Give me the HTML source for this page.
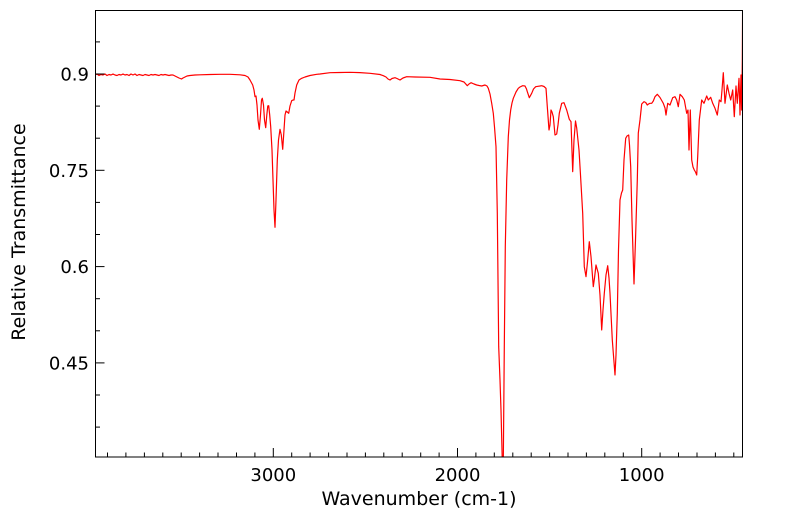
<!DOCTYPE html>
<html>
<head>
<meta charset="utf-8">
<style>
  html, body { margin: 0; padding: 0; background: #ffffff; }
  svg { display: block; }
  text { font-family: "DejaVu Sans", "Liberation Sans", sans-serif; fill: #000; }
</style>
</head>
<body>
<svg width="799" height="516" viewBox="0 0 799 516" xmlns="http://www.w3.org/2000/svg">
  <defs>
    <clipPath id="plotclip">
      <rect x="95" y="10" width="648" height="447"/>
    </clipPath>
  </defs>
  <rect x="0" y="0" width="799" height="516" fill="#ffffff"/>

  <!-- spectrum -->
  <g clip-path="url(#plotclip)">
    <polyline fill="none" stroke="#ff0000" stroke-width="1.2" stroke-linejoin="round" points="
95,75 97,74 99,75.5 101,74.5 103,75 105,74 107,75.5 109,74.5 111,75 113,74 115,75 117,75.5 119,74.5 121,75 123,74 125,75 127,74.5 129,75.5 131,74 133,75 135,74 137,75.5 139,74.5 141,75 143,75.5 145,74.5 147,75 149,75.5 151,74.5 153,75 155,74.5 157,75 159,75.5 161,74.5 163,75 165,74.5 167,75 169,75.5 171,75 173,75 175,76 177,77 179,78 181.5,79 183,78 185,77 187,76 190,75.5 195,75 200,74.8 210,74.5 220,74.3 230,74.3 240,74.8 245,75.5 248,77 250,80 252.7,85 254,90 255,96.7 256,96 257,105 258,120 259.3,129.3 260.5,115 261.5,100 262.3,98.3 263.5,105 264.5,120 265.7,127.7 266.8,115 267.8,106 268.7,105.7 269.7,115 270.7,126.7 272,150 273,180 274,210 275,227.3 276,200 277.3,160 278.5,140 280,129.3 281.3,135 282.7,149.3 284,130 285,115 286,111 287.3,112 288.7,113.3 290,106 291.7,100.7 293,100 294,100 295,93 296.7,85 299,80 301.7,78.3 305,77 310,75.5 316.7,74.3 320,74 330,72.7 340,72.5 350,72.3 360,72.6 370,73.3 380,74.5 383.3,75.7 386,77 388,79 390,80 392,78.5 395,77.7 397,78.5 400,80 403,78 406.7,76.7 415,77 430,77.3 440,79 450,79.5 460,80.7 464,82 467.3,85.7 469,84 471,82.7 474,84 476.7,85 479,85.5 481.7,86 485,85 487,86 488.3,88.3 490,94 491.7,103.3 493.3,113.3 494.5,127 496,146.7 497.3,213 498.7,346.7 500,380 501,410 502.3,462 503.3,462 504.3,346.7 505.3,246.7 506.7,180 508.3,136.7 509.5,120 510.7,110 512,103 513.3,98.3 516,92 518.3,88.3 520,87 522.7,85.7 525,86 526.5,89 527.3,91.7 529.3,97.7 531.7,93.3 533.5,89 535.7,86.7 538,86.3 540,86 541.7,85.7 544,86.5 546,88.3 547.3,106.7 549,130 550,125 551,110 552,112 553.3,116.7 555,135 556.7,134 558,125 559.3,113.3 561.7,103.3 564,102.7 566.7,110 569.3,119.3 571,121.7 572.7,171.7 574,140 575.5,121 576.7,128 579,150 580.5,175 582.7,213.3 584.3,266.7 586,276.7 587.5,262 589.3,241.7 591,256.7 593.3,286.7 594.5,278 596,265 598.3,273.3 600,295 601.7,330 603,310 604.3,293.3 606,275 607.7,265.7 609,278 610,293.3 612.3,340 615,375 616,355 617.3,313.3 618.5,250 620,200 621.5,193 622.7,190 624,160 625.7,138.3 627,136 628.7,135 629.5,145 630.7,166.7 632,220 634,284 635.5,240 637.3,180 638.3,133 640,120 641.7,104 644,101.7 645.7,102.5 647.3,105 648.5,104 650,103.3 651.7,103.3 653.3,101 655,96.7 657.3,94.3 660,97.5 662,101 663.3,103.3 665,108 666,115 667.7,103.3 670,105 672.7,97.7 675,96.7 676.7,100 678.3,106.7 680,94.3 682.3,96.7 684.3,100 686.7,113.3 688,110 689,150 690.3,110 691.7,160 693,167 694.3,170 695.5,172 696.7,175 697.7,156.7 699.3,120 701.7,100 704,103.3 706.7,96 708.3,100 710.7,97.3 712.7,103.3 715,108.3 717.3,115 719.3,100 721,101.7 722,90 723.3,72.7 725,103.3 727.3,85 729,93.3 730.7,100 732.7,90 734.3,116.7 736,86 737.3,103.3 739,78.3 740,115 741,75 741.7,110 742.3,60 742.6,8"/>
  </g>

  <!-- axes frame -->
  <rect x="95.5" y="10.5" width="647" height="446.5" fill="none" stroke="#000" stroke-width="1"/>

  <!-- x ticks (inward, bottom) -->
  <g stroke="#000" stroke-width="1">
    <line x1="273.3" y1="457" x2="273.3" y2="448"/>
    <line x1="457.5" y1="457" x2="457.5" y2="448"/>
    <line x1="641.7" y1="457" x2="641.7" y2="448"/>
    <line x1="107.5" y1="457" x2="107.5" y2="452.5"/>
    <line x1="125.9" y1="457" x2="125.9" y2="452.5"/>
    <line x1="144.4" y1="457" x2="144.4" y2="452.5"/>
    <line x1="162.8" y1="457" x2="162.8" y2="452.5"/>
    <line x1="181.2" y1="457" x2="181.2" y2="452.5"/>
    <line x1="199.6" y1="457" x2="199.6" y2="452.5"/>
    <line x1="218.0" y1="457" x2="218.0" y2="452.5"/>
    <line x1="236.5" y1="457" x2="236.5" y2="452.5"/>
    <line x1="254.9" y1="457" x2="254.9" y2="452.5"/>
    <line x1="291.7" y1="457" x2="291.7" y2="452.5"/>
    <line x1="310.1" y1="457" x2="310.1" y2="452.5"/>
    <line x1="328.6" y1="457" x2="328.6" y2="452.5"/>
    <line x1="347.0" y1="457" x2="347.0" y2="452.5"/>
    <line x1="365.4" y1="457" x2="365.4" y2="452.5"/>
    <line x1="383.8" y1="457" x2="383.8" y2="452.5"/>
    <line x1="402.2" y1="457" x2="402.2" y2="452.5"/>
    <line x1="420.7" y1="457" x2="420.7" y2="452.5"/>
    <line x1="439.1" y1="457" x2="439.1" y2="452.5"/>
    <line x1="475.9" y1="457" x2="475.9" y2="452.5"/>
    <line x1="494.3" y1="457" x2="494.3" y2="452.5"/>
    <line x1="512.8" y1="457" x2="512.8" y2="452.5"/>
    <line x1="531.2" y1="457" x2="531.2" y2="452.5"/>
    <line x1="549.6" y1="457" x2="549.6" y2="452.5"/>
    <line x1="568.0" y1="457" x2="568.0" y2="452.5"/>
    <line x1="586.4" y1="457" x2="586.4" y2="452.5"/>
    <line x1="604.8" y1="457" x2="604.8" y2="452.5"/>
    <line x1="623.3" y1="457" x2="623.3" y2="452.5"/>
    <line x1="660.1" y1="457" x2="660.1" y2="452.5"/>
    <line x1="678.5" y1="457" x2="678.5" y2="452.5"/>
    <line x1="697.0" y1="457" x2="697.0" y2="452.5"/>
    <line x1="715.4" y1="457" x2="715.4" y2="452.5"/>
    <line x1="733.8" y1="457" x2="733.8" y2="452.5"/>
  </g>

  <!-- y ticks (inward, left) -->
  <g stroke="#000" stroke-width="1">
    <line x1="95" y1="74" x2="104.5" y2="74"/>
    <line x1="95" y1="170.3" x2="104.5" y2="170.3"/>
    <line x1="95" y1="266.6" x2="104.5" y2="266.6"/>
    <line x1="95" y1="362.9" x2="104.5" y2="362.9"/>
    <line x1="95" y1="41.9" x2="100" y2="41.9"/>
    <line x1="95" y1="106.1" x2="100" y2="106.1"/>
    <line x1="95" y1="138.2" x2="100" y2="138.2"/>
    <line x1="95" y1="202.4" x2="100" y2="202.4"/>
    <line x1="95" y1="234.5" x2="100" y2="234.5"/>
    <line x1="95" y1="298.7" x2="100" y2="298.7"/>
    <line x1="95" y1="330.8" x2="100" y2="330.8"/>
    <line x1="95" y1="395" x2="100" y2="395"/>
    <line x1="95" y1="427.1" x2="100" y2="427.1"/>
  </g>

  <!-- y tick labels -->
  <g font-size="18" text-anchor="end">
    <text x="89" y="80.5">0.9</text>
    <text x="89" y="176.8">0.75</text>
    <text x="89" y="273.1">0.6</text>
    <text x="89" y="369.4">0.45</text>
  </g>

  <!-- x tick labels -->
  <g font-size="18" text-anchor="middle">
    <text x="273.3" y="481">3000</text>
    <text x="457.5" y="481">2000</text>
    <text x="641.7" y="481">1000</text>
  </g>

  <!-- axis labels -->
  <text x="419" y="505" font-size="19" text-anchor="middle">Wavenumber (cm-1)</text>
  <text transform="translate(25,232) rotate(-90)" font-size="19" text-anchor="middle">Relative Transmittance</text>
</svg>
</body>
</html>
